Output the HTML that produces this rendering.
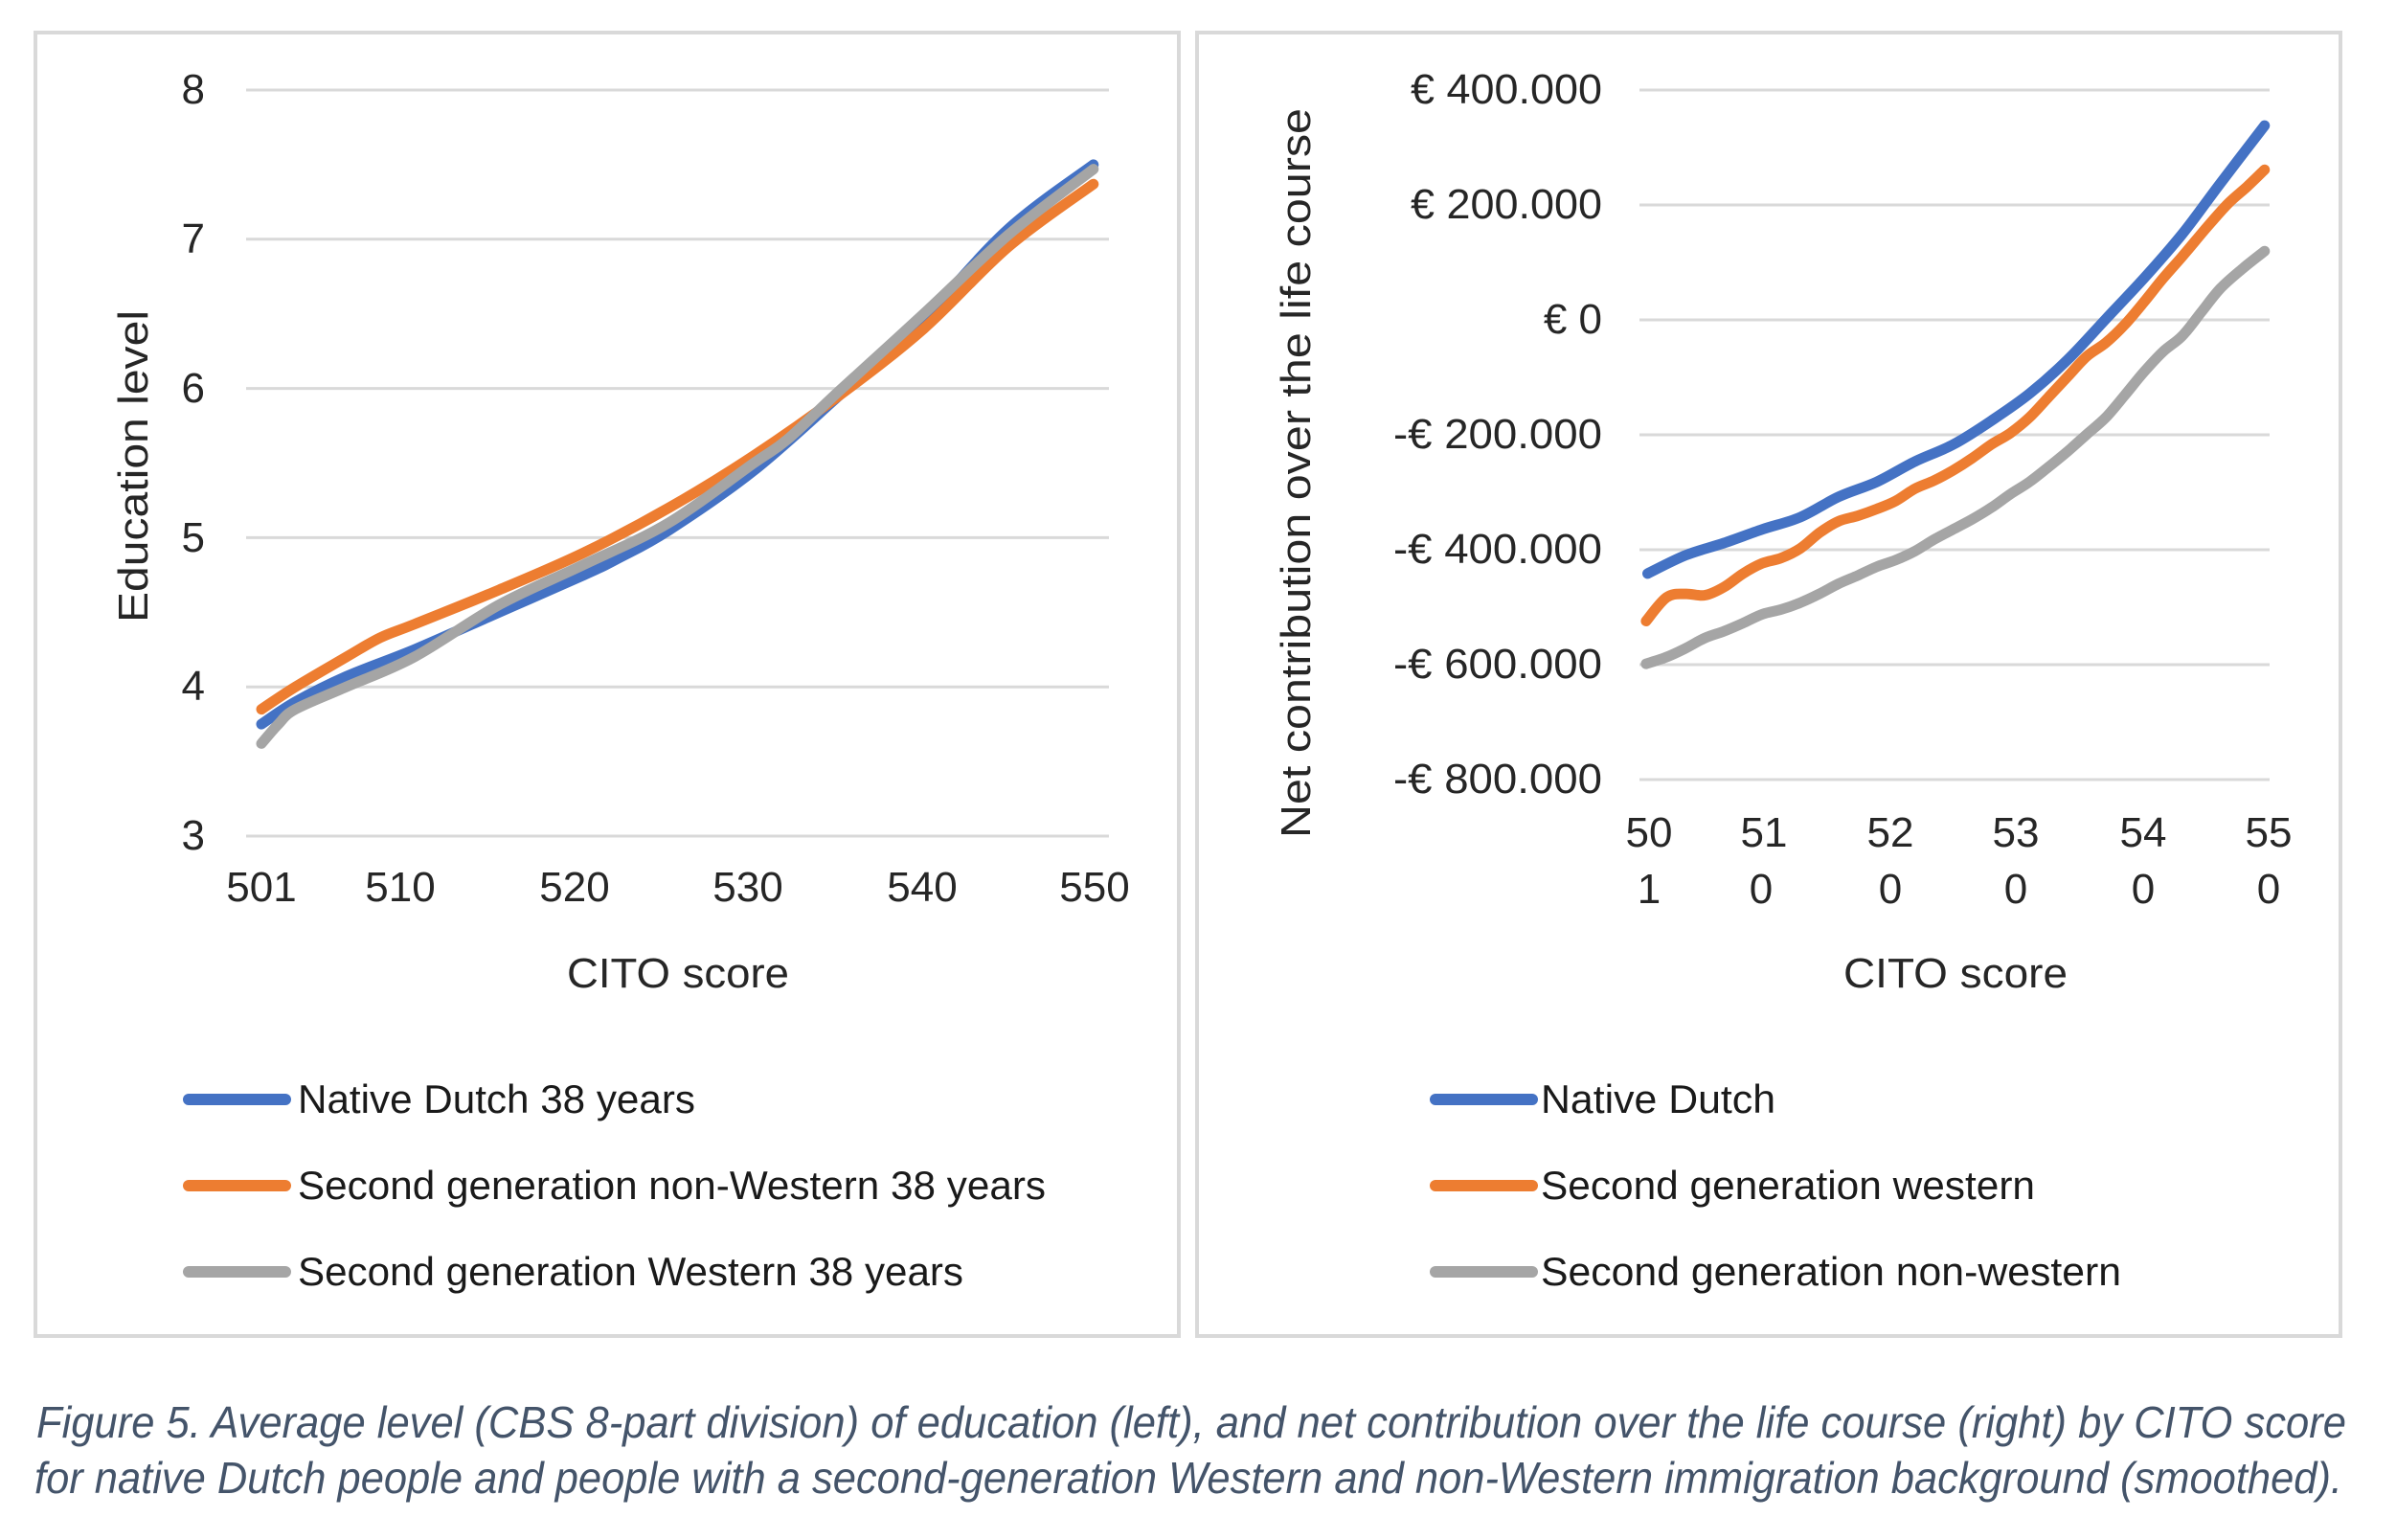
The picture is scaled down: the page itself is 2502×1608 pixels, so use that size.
<!DOCTYPE html>
<html><head><meta charset="utf-8"><style>
html,body{margin:0;padding:0;background:#fff;}
svg{display:block;}
text{font-family:"Liberation Sans",sans-serif;}
</style></head><body>
<svg id="s" width="2502" height="1608" viewBox="0 0 2502 1608" xmlns="http://www.w3.org/2000/svg">
<rect x="37" y="34" width="1194" height="1361" fill="#fff" stroke="#d9d9d9" stroke-width="4"/>
<rect x="1250" y="34" width="1194" height="1361" fill="#fff" stroke="#d9d9d9" stroke-width="4"/>
<g id="grid" stroke="#d9d9d9" stroke-width="3"></g>
<g font-size="44" fill="#262626" text-anchor="end">
<text x="214" y="108">8</text><text x="214" y="264">7</text><text x="214" y="420">6</text><text x="214" y="576">5</text><text x="214" y="731">4</text><text x="214" y="887">3</text>
</g>
<g font-size="44" fill="#262626" text-anchor="middle">
<text x="273" y="941">501</text><text x="418" y="941">510</text><text x="600" y="941">520</text><text x="781" y="941">530</text><text x="963" y="941">540</text><text x="1143" y="941">550</text>
<text x="708" y="1031" textLength="232" lengthAdjust="spacingAndGlyphs" font-size="44">CITO score</text>
<text transform="translate(154,487) rotate(-90)" textLength="326" lengthAdjust="spacingAndGlyphs" font-size="44">Education level</text>
</g>
<g font-size="44" fill="#262626" text-anchor="end">
<text x="1673" y="108" textLength="200" lengthAdjust="spacingAndGlyphs">€ 400.000</text><text x="1673" y="228" textLength="200" lengthAdjust="spacingAndGlyphs">€ 200.000</text><text x="1673" y="348">€ 0</text><text x="1673" y="468" textLength="218" lengthAdjust="spacingAndGlyphs">-€ 200.000</text><text x="1673" y="588" textLength="218" lengthAdjust="spacingAndGlyphs">-€ 400.000</text><text x="1673" y="708" textLength="218" lengthAdjust="spacingAndGlyphs">-€ 600.000</text><text x="1673" y="828" textLength="218" lengthAdjust="spacingAndGlyphs">-€ 800.000</text>
</g>
<g font-size="44" fill="#262626" text-anchor="middle">
<text x="1722" y="884">50</text><text x="1722" y="943">1</text>
<text x="1842" y="884">51</text><text x="1839" y="943">0</text>
<text x="1974" y="884">52</text><text x="1974" y="943">0</text>
<text x="2105" y="884">53</text><text x="2105" y="943">0</text>
<text x="2238" y="884">54</text><text x="2238" y="943">0</text>
<text x="2369" y="884">55</text><text x="2369" y="943">0</text>
<text x="2042" y="1031" textLength="234" lengthAdjust="spacingAndGlyphs" font-size="44">CITO score</text>
<text transform="translate(1368,494) rotate(-90)" textLength="762" lengthAdjust="spacingAndGlyphs" font-size="44">Net contribution over the life course</text>
</g>
<g id="curves" fill="none" stroke-width="11" stroke-linecap="round" stroke-linejoin="round"></g>
<g stroke-width="12" stroke-linecap="round">
<line x1="197" y1="1148" x2="298" y2="1148" stroke="#4472C4"/>
<line x1="197" y1="1238" x2="298" y2="1238" stroke="#ED7D31"/>
<line x1="197" y1="1328" x2="298" y2="1328" stroke="#A5A5A5"/>
<line x1="1499" y1="1148" x2="1600" y2="1148" stroke="#4472C4"/>
<line x1="1499" y1="1238" x2="1600" y2="1238" stroke="#ED7D31"/>
<line x1="1499" y1="1328" x2="1600" y2="1328" stroke="#A5A5A5"/>
</g>
<g font-size="42" fill="#1a1a1a">
<text x="311" y="1162" textLength="415" lengthAdjust="spacingAndGlyphs">Native Dutch 38 years</text>
<text x="311" y="1252" textLength="781" lengthAdjust="spacingAndGlyphs">Second generation non-Western 38 years</text>
<text x="311" y="1342" textLength="695" lengthAdjust="spacingAndGlyphs">Second generation Western 38 years</text>
<text x="1609" y="1162" textLength="245" lengthAdjust="spacingAndGlyphs">Native Dutch</text>
<text x="1609" y="1252" textLength="516" lengthAdjust="spacingAndGlyphs">Second generation western</text>
<text x="1609" y="1342" textLength="606" lengthAdjust="spacingAndGlyphs">Second generation non-western</text>
</g>
<g font-size="46" fill="#44546A" font-style="italic">
<text x="38" y="1501" textLength="2412" lengthAdjust="spacingAndGlyphs">Figure 5. Average level (CBS 8-part division) of education (left), and net contribution over the life course (right) by CITO score</text>
<text x="36" y="1559" textLength="2410" lengthAdjust="spacingAndGlyphs">for native Dutch people and people with a second-generation Western and non-Western immigration background (smoothed).</text>
</g>
</svg>
<script>
var NS="http://www.w3.org/2000/svg";
var g=document.getElementById('grid');
function ln(x1,y1,x2,y2){var l=document.createElementNS(NS,'line');l.setAttribute('x1',x1);l.setAttribute('y1',y1);l.setAttribute('x2',x2);l.setAttribute('y2',y2);g.appendChild(l);}
for(var i=0;i<6;i++){var y=94+i*155.8;ln(257,y,1158,y);}
for(var i=0;i<7;i++){var y=94+i*120;ln(1712,y,2370,y);}
function path(pts,col){
 var d="M"+pts[0][0].toFixed(1)+","+pts[0][1].toFixed(1);
 for(var i=0;i<pts.length-1;i++){
  var p0=pts[i>0?i-1:0],p1=pts[i],p2=pts[i+1],p3=pts[i+2<pts.length?i+2:i+1];
  var c1=[p1[0]+(p2[0]-p0[0])/6,p1[1]+(p2[1]-p0[1])/6],c2=[p2[0]-(p3[0]-p1[0])/6,p2[1]-(p3[1]-p1[1])/6];
  d+=" C"+c1[0].toFixed(1)+","+c1[1].toFixed(1)+" "+c2[0].toFixed(1)+","+c2[1].toFixed(1)+" "+p2[0].toFixed(1)+","+p2[1].toFixed(1);
 }
 var p=document.createElementNS(NS,'path');p.setAttribute('d',d);p.setAttribute('stroke',col);document.getElementById('curves').appendChild(p);
}
function L(a){return a.map(function(q){return [273+17.73*(q[0]-501),873-(q[1]-3)*155.8];});}
function R(a){return a.map(function(q){return [1250+q[0]/1.254,q[1]/1.411];});}
path(L([[501,3.75],[503,3.9],[506,4.07],[510,4.25],[515,4.5],[520,4.75],[522,4.86],[525,5.05],[530,5.45],[535,5.95],[540,6.47],[545,7.07],[550,7.5]]),'#4472C4');
path(L([[501,3.85],[503,4.0],[506,4.2],[508,4.33],[510,4.42],[515,4.65],[520,4.9],[525,5.2],[530,5.55],[535,5.95],[540,6.4],[545,6.95],[550,7.37]]),'#ED7D31');
path(L([[501,3.62],[502,3.75],[503,3.85],[506,4.0],[510,4.2],[515,4.55],[520,4.82],[525,5.1],[530,5.5],[532,5.66],[535,5.98],[540,6.5],[545,7.03],[550,7.47]]),'#A5A5A5');
path(R([[590,845],[640,818],[690,800],[740,780],[790,762],[840,732],[890,710],[940,680],[990,655],[1040,620],[1090,580],[1140,530],[1190,470],[1240,410],[1290,345],[1340,270],[1398,185]]),'#4472C4');
path(R([[588,915],[615,880],[640,875],[665,877],[690,865],[715,845],[740,830],[765,822],[790,808],[815,785],[840,768],[865,760],[890,750],[915,738],[940,720],[965,708],[990,693],[1015,675],[1040,655],[1065,638],[1090,615],[1115,585],[1140,555],[1165,525],[1190,505],[1215,478],[1240,445],[1265,410],[1290,378],[1320,338],[1350,300],[1375,275],[1398,250]]),'#ED7D31');
path(R([[588,978],[615,968],[640,955],[665,940],[690,930],[715,918],[740,905],[765,898],[790,888],[815,875],[840,860],[865,848],[890,835],[915,825],[940,812],[965,795],[990,780],[1015,765],[1040,748],[1065,728],[1090,710],[1115,688],[1140,665],[1165,640],[1190,615],[1215,582],[1240,548],[1265,518],[1290,495],[1315,460],[1340,425],[1370,395],[1398,370]]),'#A5A5A5');
</script>
</body></html>
